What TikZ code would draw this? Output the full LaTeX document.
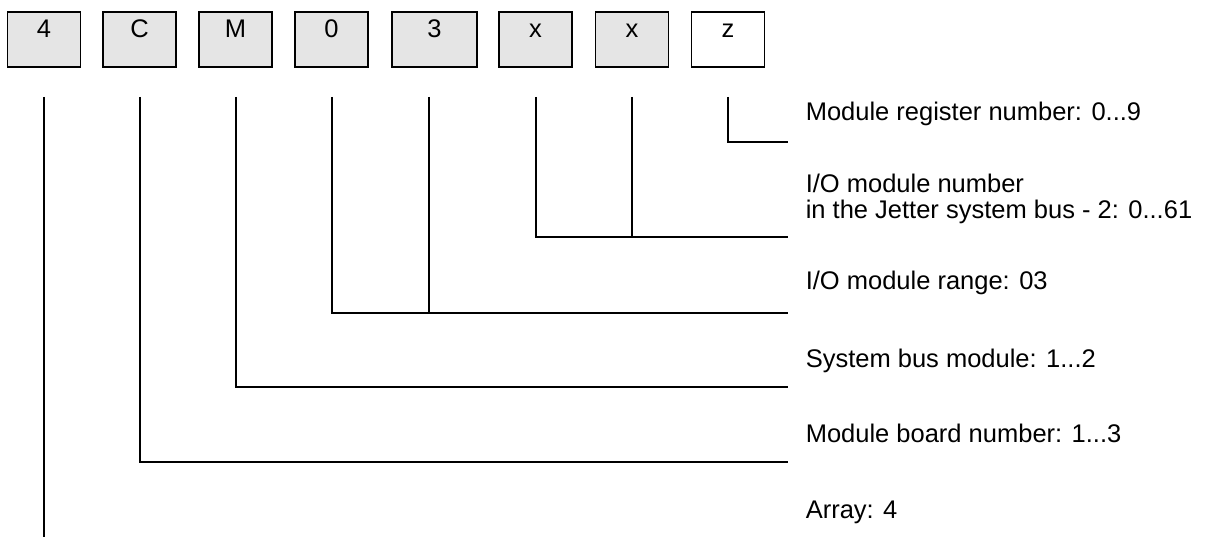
\documentclass[tikz,border=0pt]{standalone}
\usepackage{fontspec}
\setmainfont{Liberation Sans}
\usetikzlibrary{positioning, calc}

\begin{document}
\begin{tikzpicture}[x=1pt,y=-1pt,line width=1.5pt]
        \tikzstyle{digit}=[rectangle,draw=black,fill=gray!20,minimum width=73pt,inner sep=0pt,text height=26pt,text depth=29pt,font=\fontsize{25.5}{26}\selectfont]
        \tikzstyle{desc}=[anchor=base west,inner sep=0pt,align=left,font=\fontsize{25.5}{26}\selectfont]
        \useasboundingbox (0,0) rectangle (1221,537);
        % code characters
        \node[digit] (c1) at (44,39.5) {4};
        \node[digit] (c2) at (139.5,39.5) {C};
        \node[digit] (c3) at (235.5,39.5) {M};
        \node[digit] (c4) at (331.5,39.5) {0};
        \node[digit,minimum width=85pt] (c5) at (434.5,39.5) {3};
        \node[digit] (c6) at (535.5,39.5) {x};
        \node[digit] (c7) at (632,39.5) {x};
        \node[digit,fill=white] (c8) at (728,39.5) {z};
        % descriptions
        \node[desc] (l8) at (805,121) {Module register number: 0...9};
        \node[desc] (l67) at (805,219) {I/O module number\\in the Jetter system bus - 2: 0...61};
        \node[desc] (l45) at (805,290) {I/O module range: 03};
        \node[desc] (l3) at (805,367) {System bus module: 1...2};
        \node[desc] (l2) at (805,442) {Module board number: 1...3};
        \node[desc] (l1) at (805,518) {Array: 4};
        % line starts and ends
        \coordinate (t1) at (44,97);
        \coordinate (t2) at (140,97);
        \coordinate (t3) at (236,97);
        \coordinate (t4) at (332,97);
        \coordinate (t5) at (429,97);
        \coordinate (t6) at (536,97);
        \coordinate (t7) at (632,97);
        \coordinate (t8) at (728,97);
        \coordinate (e8) at (788,142);
        \coordinate (e67) at (788,237);
        \coordinate (e45) at (788,313);
        \coordinate (e3) at (788,387);
        \coordinate (e2) at (788,462);
        \coordinate (e1) at (44,537);
        \draw (t8) |- (e8);
        \draw (t6) |- (e67);
        \draw (t7) -- (t7 |- e67);
        \draw (t4) |- (e45);
        \draw (t5) -- (t5 |- e45);
        \draw (t3) |- (e3);
        \draw (t2) |- (e2);
        \draw (t1) -- (e1);
    \end{tikzpicture}
\end{document}
